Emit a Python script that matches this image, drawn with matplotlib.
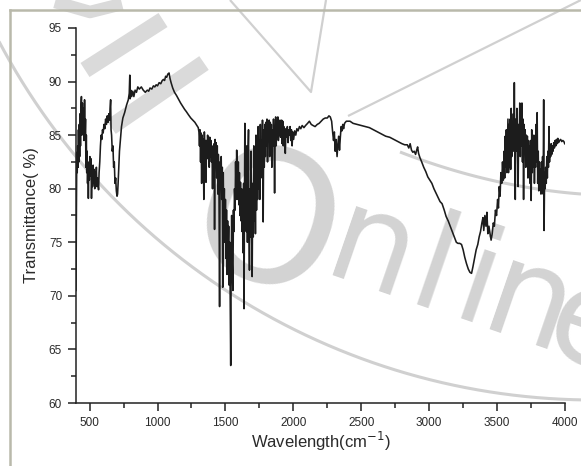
import numpy as np
import matplotlib
matplotlib.use("Agg")
import matplotlib.pyplot as plt
from matplotlib.lines import Line2D
from matplotlib.ticker import MultipleLocator

# (wavenumber cm-1, transmittance %), split by region
low_region = [
    (400, 70.5), (403, 78.0), (406, 83.4), (409, 81.5), (412, 84.0), (415, 82.0),
    (418, 85.5), (421, 82.5), (424, 86.0), (427, 83.0), (430, 87.0), (433, 84.0),
    (436, 87.5), (440, 88.6), (443, 85.0), (447, 88.0), (451, 85.5), (455, 87.5),
    (459, 84.5), (463, 88.3), (467, 85.0), (470, 86.5), (473, 82.0), (476, 85.0),
    (479, 81.5), (482, 83.5), (485, 80.5), (488, 82.5), (491, 79.1), (494, 82.0),
    (498, 80.8), (502, 83.0), (506, 81.2), (510, 82.8), (514, 79.1), (518, 81.5),
    (522, 80.2), (526, 82.2), (530, 80.5), (534, 81.8), (538, 80.0), (542, 81.5),
    (546, 80.8), (550, 82.0), (554, 80.2), (558, 81.0), (562, 80.5), (566, 79.9),
    (570, 81.5), (575, 82.5), (580, 84.0), (585, 85.0), (590, 84.6), (595, 85.5),
    (600, 85.2), (606, 86.0), (612, 85.6), (618, 86.5), (624, 86.0), (630, 86.8),
    (636, 86.2), (642, 87.0), (647, 86.4), (651, 87.5), (655, 88.3), (658, 85.5),
    (662, 85.0), (667, 83.5), (672, 84.0), (677, 82.0), (682, 82.5), (687, 80.5),
    (692, 81.0), (697, 79.8), (702, 79.3), (706, 79.5), (710, 80.5), (715, 82.0),
    (720, 83.5), (727, 84.6), (735, 85.8), (745, 86.6), (758, 87.1), (772, 87.8),
    (785, 88.3), (792, 88.9), (796, 90.6), (799, 88.4), (803, 89.2), (810, 88.6),
    (818, 89.1), (826, 88.6), (835, 89.2), (845, 89.0), (855, 89.5), (866, 89.3),
    (881, 89.5), (895, 89.2), (910, 89.0), (925, 89.2), (935, 89.1), (945, 89.4),
    (958, 89.3), (970, 89.6), (980, 89.5), (990, 89.7), (1000, 89.6), (1012, 89.9),
    (1024, 89.8), (1035, 90.1), (1044, 90.2), (1052, 90.1), (1060, 90.5), (1068, 90.4),
    (1076, 90.7), (1085, 90.8), (1092, 90.3), (1100, 89.9), (1112, 89.4), (1125, 89.0),
    (1140, 88.7), (1153, 88.4), (1170, 88.0), (1185, 87.7), (1200, 87.4), (1212, 87.2),
    (1228, 86.9), (1245, 86.6), (1260, 86.4), (1275, 86.2), (1290, 85.9), (1300, 85.7),
]

fingerprint = [
    (1305, 85.3), (1309, 84.0), (1313, 85.5), (1317, 82.5), (1321, 85.2), (1325, 80.5),
    (1329, 85.0), (1333, 81.0), (1337, 84.6), (1341, 79.0), (1345, 85.3), (1349, 83.0),
    (1353, 84.5), (1357, 80.6), (1361, 84.5), (1365, 82.8), (1369, 85.0), (1373, 83.5),
    (1377, 84.8), (1381, 82.0), (1385, 84.8), (1389, 83.0), (1393, 84.5), (1397, 82.5),
    (1401, 84.0), (1405, 80.0), (1409, 83.5), (1413, 81.0), (1417, 84.2), (1420, 76.2),
    (1424, 84.6), (1428, 82.5), (1432, 84.3), (1436, 81.0), (1440, 84.0), (1444, 79.5),
    (1448, 83.2), (1452, 81.5), (1457, 69.0), (1461, 82.5), (1465, 80.5), (1469, 83.0),
    (1473, 79.0), (1477, 82.0), (1480, 70.8), (1484, 81.5), (1488, 77.0), (1492, 80.0),
    (1496, 75.0), (1500, 79.0), (1504, 73.5), (1508, 78.0), (1512, 72.0), (1516, 77.0),
    (1520, 74.0), (1524, 76.5), (1528, 71.0), (1532, 75.0), (1536, 68.0), (1539, 63.5),
    (1542, 72.0), (1546, 77.5), (1550, 73.0), (1555, 70.5), (1559, 78.0), (1563, 76.0),
    (1567, 80.0), (1571, 78.0), (1575, 82.5), (1579, 79.0), (1583, 83.6), (1587, 80.0),
    (1591, 79.0), (1595, 82.5), (1599, 78.5), (1603, 81.5), (1607, 77.5), (1611, 80.6),
    (1615, 77.0), (1619, 80.0), (1623, 76.0), (1627, 79.0), (1631, 74.0), (1634, 80.5),
    (1637, 68.8), (1640, 78.5), (1643, 86.1), (1646, 77.0), (1650, 80.2), (1654, 76.0),
    (1658, 84.0), (1662, 75.0), (1666, 83.0), (1670, 85.5), (1674, 76.0), (1677, 72.4),
    (1681, 80.0), (1685, 75.5), (1689, 83.5), (1693, 76.0), (1697, 71.8), (1701, 80.5),
    (1705, 75.5), (1709, 84.0), (1713, 77.0), (1717, 82.5), (1721, 75.8), (1725, 85.0),
    (1729, 78.0), (1733, 83.0), (1737, 79.0), (1741, 85.8), (1745, 80.0), (1749, 84.5),
    (1753, 79.0), (1757, 86.0), (1761, 81.0), (1765, 84.5), (1769, 81.5), (1773, 86.4),
    (1778, 76.9), (1782, 85.5), (1786, 82.0), (1790, 86.0), (1794, 83.0), (1798, 86.2),
    (1802, 84.0), (1806, 86.5), (1810, 82.5), (1814, 86.0), (1818, 84.5), (1822, 86.4),
    (1826, 83.0), (1830, 86.2), (1834, 84.0), (1838, 86.0), (1842, 82.0), (1846, 85.5),
    (1850, 84.0), (1854, 86.5), (1858, 84.5), (1862, 79.6), (1866, 85.0), (1870, 86.7),
    (1874, 84.0), (1878, 86.3), (1882, 85.2), (1886, 86.7), (1890, 84.5), (1894, 86.2),
    (1898, 85.0), (1902, 86.4), (1906, 84.8), (1910, 86.0), (1914, 86.4), (1918, 84.2),
    (1922, 86.3), (1926, 84.0), (1930, 85.8), (1935, 85.0), (1941, 83.3), (1946, 85.6),
    (1951, 84.8), (1956, 85.8), (1961, 84.3), (1966, 85.5), (1971, 85.0), (1976, 85.8),
    (1981, 84.5), (1986, 85.5), (1991, 84.0), (1996, 85.3),
]

mid_region = [
    (2002, 84.6), (2010, 85.4), (2018, 85.0), (2026, 85.6), (2035, 85.4), (2045, 85.8),
    (2055, 85.6), (2065, 85.9), (2078, 85.7), (2090, 85.9), (2105, 86.1), (2118, 86.3),
    (2132, 86.0), (2145, 85.9), (2160, 85.8), (2176, 86.0), (2190, 86.1), (2205, 86.3),
    (2220, 86.5), (2235, 86.6), (2250, 86.6), (2262, 86.8), (2272, 86.7), (2282, 86.3),
    (2290, 85.2), (2296, 84.5), (2302, 85.3), (2308, 83.5), (2314, 84.6), (2322, 83.0),
    (2328, 84.2), (2334, 84.9), (2340, 83.6), (2346, 84.8), (2352, 85.8), (2358, 85.4),
    (2364, 86.0), (2370, 85.6), (2377, 86.1), (2390, 86.3), (2405, 86.3), (2417, 86.3),
    (2440, 86.1), (2470, 86.0), (2500, 85.9), (2530, 85.8), (2560, 85.7), (2590, 85.5),
    (2620, 85.3), (2650, 85.1), (2680, 84.9), (2710, 84.8), (2740, 84.6), (2770, 84.4),
    (2800, 84.2), (2820, 84.1), (2839, 84.1), (2850, 83.8), (2860, 84.2), (2870, 83.6),
    (2880, 83.4), (2890, 83.5), (2900, 83.2), (2908, 83.6), (2915, 83.9), (2922, 83.3),
    (2932, 82.9), (2945, 82.5), (2960, 82.0), (2975, 81.6), (2990, 81.1), (3005, 80.8),
    (3020, 80.5), (3035, 80.0), (3050, 79.6), (3065, 79.2), (3080, 78.8), (3095, 78.6),
    (3111, 78.0), (3125, 77.4), (3140, 77.0), (3155, 76.5), (3170, 76.0), (3185, 75.5),
    (3200, 75.0), (3212, 74.9), (3225, 74.9), (3238, 74.8), (3250, 74.3), (3262, 73.6),
    (3275, 73.0), (3288, 72.5), (3300, 72.2), (3312, 72.1), (3322, 72.7), (3334, 73.5),
    (3346, 74.3), (3358, 74.8), (3368, 75.5), (3378, 76.0), (3388, 76.8), (3396, 77.3),
    (3402, 76.1), (3410, 77.5), (3418, 76.5), (3425, 77.8), (3432, 75.8), (3440, 76.5),
    (3448, 75.8), (3456, 75.2), (3464, 75.8), (3472, 76.8), (3480, 76.5), (3488, 78.0),
    (3496, 77.5), (3504, 79.0), (3510, 78.2), (3516, 80.2), (3522, 79.3), (3528, 81.5),
    (3534, 80.5), (3540, 82.5), (3546, 80.8), (3552, 83.5),
]

high_region = [
    (3556, 81.0), (3560, 84.9), (3564, 82.0), (3568, 85.5), (3572, 81.5), (3576, 84.0),
    (3580, 86.5), (3584, 81.5), (3588, 86.0), (3592, 82.0), (3596, 86.5), (3600, 81.8),
    (3604, 87.5), (3608, 83.0), (3612, 86.0), (3616, 84.0), (3620, 87.0), (3624, 83.5),
    (3627, 89.9), (3630, 84.0), (3634, 79.0), (3638, 86.5), (3642, 83.5), (3646, 87.5),
    (3650, 84.0), (3655, 80.2), (3659, 86.0), (3663, 84.5), (3667, 88.0), (3671, 83.0),
    (3675, 87.4), (3679, 84.0), (3683, 88.0), (3687, 82.5), (3691, 86.5), (3695, 79.0),
    (3699, 86.0), (3703, 83.5), (3707, 85.5), (3711, 82.0), (3715, 85.0), (3719, 83.5),
    (3723, 84.9), (3727, 81.0), (3731, 84.5), (3735, 82.5), (3739, 84.0), (3743, 80.5),
    (3747, 84.5), (3751, 78.9), (3755, 85.5), (3759, 81.5), (3763, 84.6), (3767, 82.0),
    (3771, 85.0), (3775, 80.5), (3779, 84.0), (3783, 82.0), (3787, 86.0), (3791, 82.5),
    (3795, 87.1), (3799, 80.5), (3803, 83.5), (3807, 79.8), (3811, 82.5), (3815, 80.0),
    (3819, 81.8), (3823, 79.5), (3827, 82.5), (3831, 80.0), (3835, 83.0), (3839, 79.5),
    (3843, 88.3), (3846, 76.1), (3850, 81.5), (3854, 80.0), (3858, 82.0), (3862, 80.5),
    (3866, 83.0), (3870, 81.0), (3874, 83.5), (3878, 82.0), (3882, 85.8), (3886, 82.5),
    (3890, 84.0), (3894, 83.0), (3898, 84.2), (3902, 83.2), (3907, 84.0), (3912, 83.5),
    (3917, 84.3), (3922, 83.8), (3927, 84.5), (3932, 84.0), (3937, 84.6), (3942, 84.2),
    (3947, 84.7), (3952, 84.3), (3960, 84.5), (3968, 84.6), (3976, 84.4), (3984, 84.5),
    (3992, 84.4), (3998, 84.2),
]

x_ticks = [500, 1000, 1500, 2000, 2500, 3000, 3500, 4000]
y_ticks = [60, 65, 70, 75, 80, 85, 90, 95]

spectrum = np.array(low_region + fingerprint + mid_region + high_region)
wavenumber = spectrum[:, 0]
transmittance = spectrum[:, 1]

W, H = 581, 466
fig = plt.figure(figsize=(W / 100, H / 100), dpi=100, facecolor="white")


def px(x, y):
    # pixel position (origin top-left) -> figure fraction
    return x / W, 1 - y / H


def wm_line(xs, ys, lw=2.0, color="#d0d0d0"):
    pts = [px(a, b) for a, b in zip(xs, ys)]
    fig.add_artist(Line2D([p[0] for p in pts], [p[1] for p in pts],
                          transform=fig.transFigure, color=color, lw=lw,
                          solid_capstyle="butt", zorder=-5))


# watermark (light grey, behind the plot)
t = np.linspace(np.radians(88), np.radians(156), 200)
wm_line(594 + 673 * np.cos(t), -273 + 673 * np.sin(t), lw=2.2)
wm_line([348, 581], [116, 0], lw=1.6)
wm_line([230, 311, 326], [0, 92, 0], lw=1.6)
t2 = np.linspace(0, 1, 50)
wm_line(400 + 181 * t2, 152 + 70 * t2 - 28 * t2 ** 2, lw=2.2)
wm_line([85, 163], [70, 20], lw=12, color="#dadada")
wm_line([111, 204], [127, 63], lw=12, color="#dadada")
wm_line([55, 90, 122], [2, 12, 4], lw=9, color="#dadada")

# "Online" watermark letters, laid on a baseline tilted by about 19 degrees
letters = ["O", "n", "l", "i", "n", "e"]
base_x = [248, 360, 421, 465, 517, 578]
base_dy = [30, 0, 0, 0, 0, 0]
sizes = [132, 96, 96, 96, 96, 96]
for ch, bx, dy, fs in zip(letters, base_x, base_dy, sizes):
    by = 289 + (bx - 360) * 0.344 + dy
    fx, fy = px(bx, by)
    fig.text(fx, fy, ch, fontsize=fs, color="#d3d3d3", rotation=-19,
             rotation_mode="anchor", ha="center", va="baseline",
             family="DejaVu Sans", zorder=-5)

# grey frame of the original screenshot
fig.add_artist(Line2D([10 / W, 10 / W], [0, 1 - 10 / H], transform=fig.transFigure,
                      color="#b9b9ab", lw=1.8, zorder=-4))
fig.add_artist(Line2D([10 / W, 1], [1 - 10 / H, 1 - 10 / H], transform=fig.transFigure,
                      color="#b9b9ab", lw=1.8, zorder=-4))

ax = fig.add_axes([76 / W, 1 - 403 / H, (565 - 76) / W, (403 - 28) / H])
ax.patch.set_alpha(0)

ax.plot(wavenumber, transmittance, color="#1c1c1c", lw=1.15)

ax.set_xlim(400, 4000)
ax.set_ylim(60, 95)
ax.set_xticks(x_ticks)
ax.set_yticks(y_ticks)
ax.xaxis.set_minor_locator(MultipleLocator(250))
ax.yaxis.set_minor_locator(MultipleLocator(2.5))

for s in ["top", "right"]:
    ax.spines[s].set_visible(False)
for s in ["left", "bottom"]:
    ax.spines[s].set_linewidth(1.1)
    ax.spines[s].set_color("#222222")

ax.tick_params(which="major", direction="out", length=6, width=1.1,
               color="#222222", labelsize=8.5, labelcolor="#2a2a2a", pad=4)
ax.tick_params(which="minor", direction="out", length=3.6, width=1.1, color="#222222")
for lab in ax.get_xticklabels() + ax.get_yticklabels():
    lab.set_family("Liberation Sans")

ax.set_xlabel("Wavelength(cm$^{-1}$)", fontsize=12, family="Liberation Sans",
              color="#2a2a2a", labelpad=0.5)
ax.set_ylabel("Transmittance( %)", fontsize=12, family="Liberation Sans",
              color="#2a2a2a", labelpad=7)

fig.savefig("out.png", dpi=100, facecolor="white")
